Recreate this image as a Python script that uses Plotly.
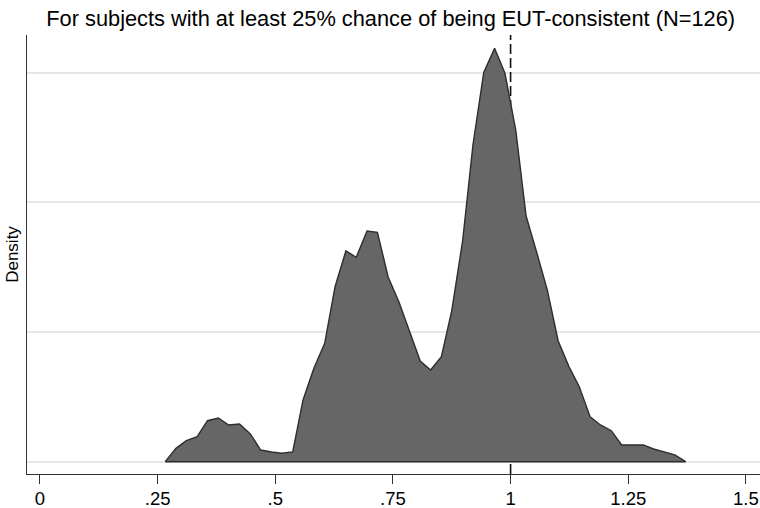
import plotly.graph_objects as go

# Kernel density estimate (50 evaluation points) of the parameter estimates
grid_x = [0.266, 0.289, 0.311, 0.334, 0.356, 0.379, 0.401, 0.424, 0.447, 0.469,
          0.492, 0.514, 0.537, 0.559, 0.582, 0.605, 0.627, 0.650, 0.672, 0.695,
          0.717, 0.740, 0.763, 0.785, 0.808, 0.830, 0.853, 0.875, 0.898, 0.920,
          0.943, 0.966, 0.988, 1.011, 1.033, 1.056, 1.078, 1.101, 1.124, 1.146,
          1.169, 1.191, 1.214, 1.236, 1.259, 1.282, 1.304, 1.327, 1.349, 1.372]
density = [0.000, 0.103, 0.162, 0.193, 0.316, 0.337, 0.283, 0.291, 0.214, 0.090,
           0.075, 0.065, 0.075, 0.476, 0.720, 0.913, 1.349, 1.625, 1.576, 1.779,
           1.769, 1.422, 1.230, 1.000, 0.776, 0.707, 0.810, 1.165, 1.700, 2.442,
           3.002, 3.187, 2.995, 2.557, 1.894, 1.607, 1.324, 0.933, 0.733, 0.578,
           0.347, 0.283, 0.239, 0.129, 0.129, 0.129, 0.098, 0.077, 0.052, 0.000]

x_ticks = [0, 0.25, 0.5, 0.75, 1, 1.25, 1.5]
x_tick_labels = ["0", ".25", ".5", ".75", "1", "1.25", "1.5"]
y_grid = [0, 1, 2, 3]
reference_x = 1.0

x_range = [-0.0276, 1.53]
y_range = [-0.095, 3.29]

title = "For subjects with at least 25% chance of being EUT-consistent (N=126)"

fig = go.Figure()

# Reference line at 1, drawn beneath the shaded density
fig.add_trace(go.Scatter(
    x=[reference_x, reference_x], y=y_range,
    mode="lines",
    line=dict(color="#111111", width=1.6, dash="10px,4px"),
    hoverinfo="skip", showlegend=False,
))

# Closed polygon: curve plus baseline back to the start
poly_x = grid_x + [grid_x[-1], grid_x[0]]
poly_y = density + [0, 0]
fig.add_trace(go.Scatter(
    x=poly_x, y=poly_y,
    mode="lines",
    fill="toself",
    fillcolor="#666666",
    line=dict(color="#2e2e2e", width=1.4),
    showlegend=False,
))

font_family = "Liberation Sans, Arial, sans-serif"

fig.update_layout(
    width=760, height=508,
    margin=dict(l=27, r=0, t=35, b=34),
    paper_bgcolor="white",
    plot_bgcolor="white",
    font=dict(family=font_family, color="#000000", size=17),
    title=dict(
        text=title,
        x=0.514, xanchor="center",
        y=0.963, yanchor="middle",
        font=dict(size=21.8, family=font_family, color="#000000"),
    ),
    xaxis=dict(
        range=x_range,
        automargin=False,
        tickmode="array",
        tickvals=x_ticks,
        ticktext=x_tick_labels,
        ticks="outside",
        ticklen=9,
        tickwidth=1.2,
        tickcolor="#333333",
        ticklabelstandoff=-1,
        showgrid=False,
        zeroline=False,
        showline=True,
        linecolor="#333333",
        linewidth=1.3,
        tickfont=dict(size=18.5),
    ),
    yaxis=dict(
        range=y_range,
        automargin=False,
        tickmode="array",
        tickvals=y_grid,
        showticklabels=False,
        ticks="",
        showgrid=True,
        gridcolor="#e6e6e6",
        gridwidth=1.6,
        zeroline=False,
        showline=True,
        linecolor="#333333",
        linewidth=1.3,
        title=dict(text="Density", font=dict(size=17), standoff=2),
    ),
)

fig.write_html("out.html")
